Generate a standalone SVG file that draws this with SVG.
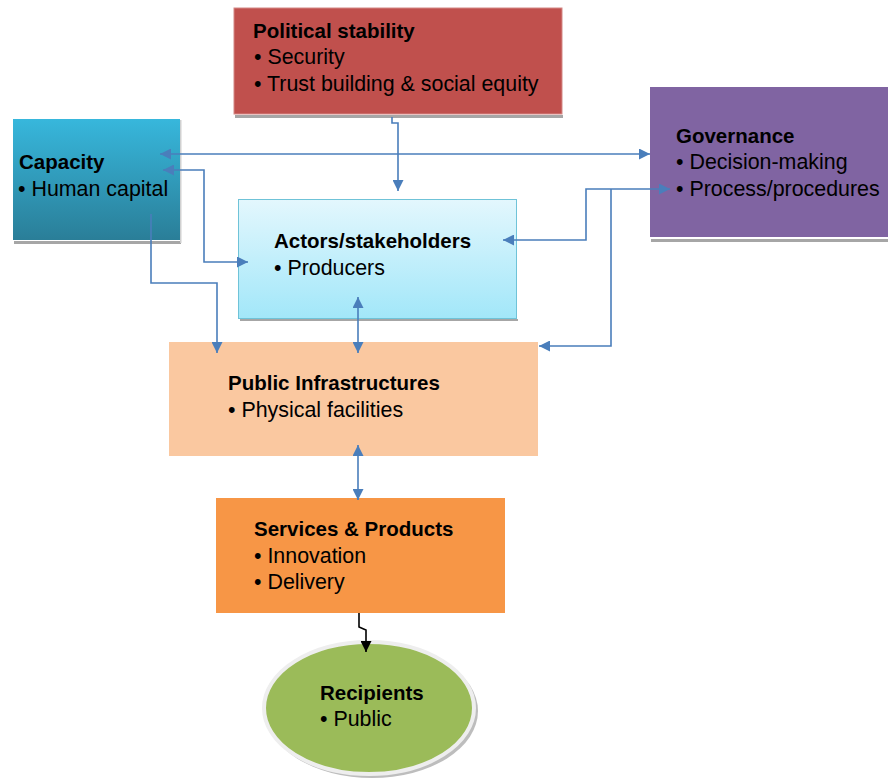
<svg xmlns="http://www.w3.org/2000/svg" width="888" height="779" viewBox="0 0 888 779">
  <defs>
    <style>
      text { font-family: "Liberation Sans", Arial, sans-serif; font-size: 21.4px; fill: #000; }
      .title { font-weight: bold; font-size: 20.5px; }
      .conn { fill: none; stroke: #4a7ebb; stroke-width: 1.6; }
      .conn-dark { fill: none; stroke: #000; stroke-width: 1.6; }
      .shadow { fill: #a6a6a6; }
    </style>
    <marker id="arrow" viewBox="0 0 10 10" refX="10" refY="5" markerWidth="11" markerHeight="11" markerUnits="userSpaceOnUse" orient="auto-start-reverse">
      <path d="M0,0 L10,5 L0,10 z" fill="#4a7ebb"/>
    </marker>
    <marker id="arrow-dark" viewBox="0 0 10 10" refX="10" refY="5" markerWidth="11" markerHeight="11" markerUnits="userSpaceOnUse" orient="auto-start-reverse">
      <path d="M0,0 L10,5 L0,10 z" fill="#000"/>
    </marker>
    <linearGradient id="capacityFill" x1="0" y1="0" x2="0" y2="1">
      <stop offset="0" stop-color="#37b7dc"/>
      <stop offset="1" stop-color="#2a7e98"/>
    </linearGradient>
    <linearGradient id="actorsFill" x1="0" y1="0" x2="0" y2="1">
      <stop offset="0" stop-color="#e3f7fd"/>
      <stop offset="1" stop-color="#a2e7f9"/>
    </linearGradient>
  </defs>

  <!-- Political stability -->
  <g id="political">
    <rect class="shadow" x="235" y="115" width="328" height="3"/>
    <rect x="234" y="8" width="328" height="106" fill="#c0504d" stroke="#d48886" stroke-width="1"/>
    <text class="title" x="253" y="38">Political stability</text>
    <text x="254" y="64">• Security</text>
    <text x="254" y="90.5">• Trust building &amp; social equity</text>
  </g>

  <!-- Capacity -->
  <g id="capacity">
    <rect class="shadow" x="14" y="241" width="167" height="3"/>
    <rect x="180" y="120" width="1.5" height="123" fill="#d0d0d0"/>
    <rect x="13" y="119" width="167" height="121" fill="url(#capacityFill)"/>
    <text class="title" x="19" y="169">Capacity</text>
    <text x="18" y="196">• Human capital</text>
  </g>

  <!-- Governance -->
  <g id="governance">
    <rect class="shadow" x="651" y="239" width="237" height="3"/>
    <rect x="650" y="87" width="238" height="150" fill="#8064a2"/>
    <text class="title" x="676" y="143">Governance</text>
    <text x="676" y="169">• Decision-making</text>
    <text x="676" y="196">• Process/procedures</text>
  </g>

  <!-- Actors/stakeholders -->
  <g id="actors">
    <rect class="shadow" x="240" y="319" width="278" height="2"/>
    <rect x="238.5" y="199.5" width="278" height="119" fill="url(#actorsFill)" stroke="#6fc3d8" stroke-width="1"/>
    <text class="title" x="274" y="248">Actors/stakeholders</text>
    <text x="274" y="275">• Producers</text>
  </g>

  <!-- Public Infrastructures -->
  <g id="infrastructures">
    <rect x="169" y="342" width="369" height="114" fill="#fac8a0"/>
    <text class="title" x="228" y="390">Public Infrastructures</text>
    <text x="228" y="417">• Physical facilities</text>
  </g>

  <!-- Services & Products -->
  <g id="services">
    <rect x="216" y="498" width="289" height="115" fill="#f79646"/>
    <text class="title" x="254" y="536">Services &amp; Products</text>
    <text x="254" y="563">• Innovation</text>
    <text x="254" y="589">• Delivery</text>
  </g>

  <!-- Recipients -->
  <g id="recipients">
    <ellipse cx="372" cy="711" rx="106" ry="67" fill="#bdbdbd"/>
    <ellipse cx="369" cy="708" rx="105" ry="66" fill="#9bbb59" stroke="#eeeeee" stroke-width="4"/>
    <text class="title" x="320" y="700">Recipients</text>
    <text x="320" y="726">• Public</text>
  </g>

  <!-- Connectors -->
  <g id="connectors">
    <path class="conn" d="M392,117 V123 H398 V191" marker-end="url(#arrow)"/>
    <path class="conn" d="M160,154 H650" marker-start="url(#arrow)" marker-end="url(#arrow)"/>
    <path class="conn" d="M163,170 H204 V262 H248" marker-start="url(#arrow)" marker-end="url(#arrow)"/>
    <path class="conn" d="M151,214 V283 H217 V353" marker-end="url(#arrow)"/>
    <path class="conn" d="M503,240 H586 V189 H670" marker-start="url(#arrow)" marker-end="url(#arrow)"/>
    <path class="conn" d="M611,189 V346 H539" marker-end="url(#arrow)"/>
    <path class="conn" d="M358,297 V353" marker-start="url(#arrow)" marker-end="url(#arrow)"/>
    <path class="conn" d="M358,445 V500" marker-start="url(#arrow)" marker-end="url(#arrow)"/>
    <path class="conn-dark" d="M359,613 V627 L366,630 V652" marker-end="url(#arrow-dark)"/>
  </g>
</svg>
